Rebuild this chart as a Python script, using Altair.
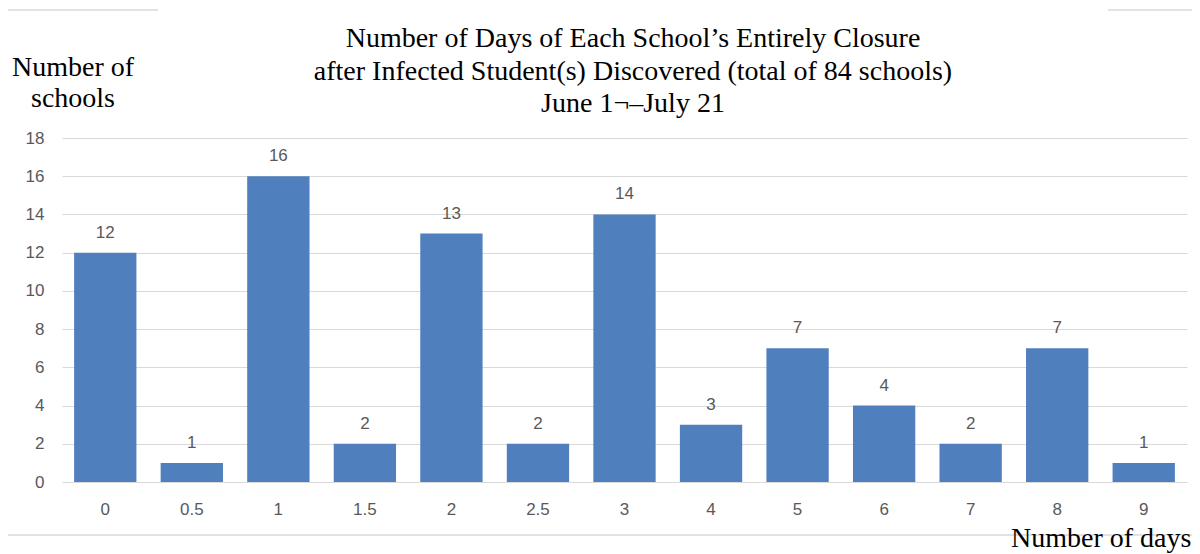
import altair as alt
import pandas as pd

days = ["0", "0.5", "1", "1.5", "2", "2.5", "3", "4", "5", "6", "7", "8", "9"]
schools = [12, 1, 16, 2, 13, 2, 14, 3, 7, 4, 2, 7, 1]
title_lines = [
    "Number of Days of Each School\u2019s Entirely Closure",
    "after Infected Student(s) Discovered (total of 84 schools)",
    "June 1\u00ac\u2013July 21",
]
y_title_lines = ["Number of", "schools"]
x_title = "Number of days"
y_ticks = [0, 2, 4, 6, 8, 10, 12, 14, 16, 18]

df = pd.DataFrame({"days": days, "schools": schools})
one = pd.DataFrame({"k": [0]})

W, H = 1125, 344
SANS = "Liberation Sans"
SERIF = "Liberation Serif"
GRAY = "#595959"

x_enc = alt.X(
    "days:N", sort=days, title=None,
    scale=alt.Scale(paddingInner=0.28, paddingOuter=0.14),
    axis=alt.Axis(labelAngle=0, labelFont=SANS, labelFontSize=17, labelColor=GRAY,
                  labelPadding=19, ticks=False, domain=False, grid=False),
)
y_enc = alt.Y(
    "schools:Q", title=None,
    scale=alt.Scale(domain=[0, 18], nice=False),
    axis=alt.Axis(values=y_ticks, labelFont=SANS, labelFontSize=17, labelColor=GRAY,
                  labelPadding=18, ticks=False, domain=False, grid=True,
                  labelOverlap=False, gridColor="#d9d9d9", gridWidth=1.2),
)

base = alt.Chart(df)
bars = base.mark_bar(color="#4f7fbd").encode(x=x_enc, y=y_enc)
labels = base.mark_text(font=SANS, fontSize=17, color=GRAY, baseline="alphabetic", dy=-15).encode(
    x=x_enc, y=y_enc, text="schools:Q"
)

title_df = pd.DataFrame({"t": title_lines, "i": list(range(len(title_lines)))})
title = alt.Chart(title_df).transform_calculate(
    yy="-91 + datum.i * 32.5"
).mark_text(font=SERIF, fontSize=28, color="black", align="center", baseline="alphabetic").encode(
    text="t:N", x=alt.value(571), y=alt.Y("yy:Q", scale=None)
)

yt_df = pd.DataFrame({"t": y_title_lines, "i": list(range(len(y_title_lines)))})
ytitle = alt.Chart(yt_df).transform_calculate(
    yy="-62 + datum.i * 31"
).mark_text(font=SERIF, fontSize=28, color="black", align="center", baseline="alphabetic").encode(
    text="t:N", x=alt.value(11), y=alt.Y("yy:Q", scale=None)
)

xtitle = alt.Chart(one).mark_text(font=SERIF, fontSize=28, color="black", align="left",
                                  baseline="alphabetic").encode(
    text=alt.value(x_title), x=alt.value(949), y=alt.value(409)
)

border_color = "#d9d9d9"
rules = [
    alt.Chart(one).mark_rule(color=border_color, strokeWidth=1.5).encode(
        x=alt.value(-55), y=alt.value(-128), y2=alt.value(397)),
    alt.Chart(one).mark_rule(color=border_color, strokeWidth=1.5).encode(
        x=alt.value(-55), x2=alt.value(96), y=alt.value(-128)),
    alt.Chart(one).mark_rule(color=border_color, strokeWidth=1.5).encode(
        x=alt.value(1046), x2=alt.value(1130), y=alt.value(-128)),
    alt.Chart(one).mark_rule(color=border_color, strokeWidth=1.5).encode(
        x=alt.value(-55), x2=alt.value(1130), y=alt.value(397)),
]

chart = alt.layer(*rules, bars, labels, title, ytitle, xtitle).properties(
    width=W, height=H,
    autosize=alt.AutoSizeParams(type="none"),
    padding={"left": 54, "top": 130, "right": 5, "bottom": 72},
    background="white",
).configure_view(stroke=None)

chart.save("out.html", embed_options={"renderer": "svg", "actions": False})
